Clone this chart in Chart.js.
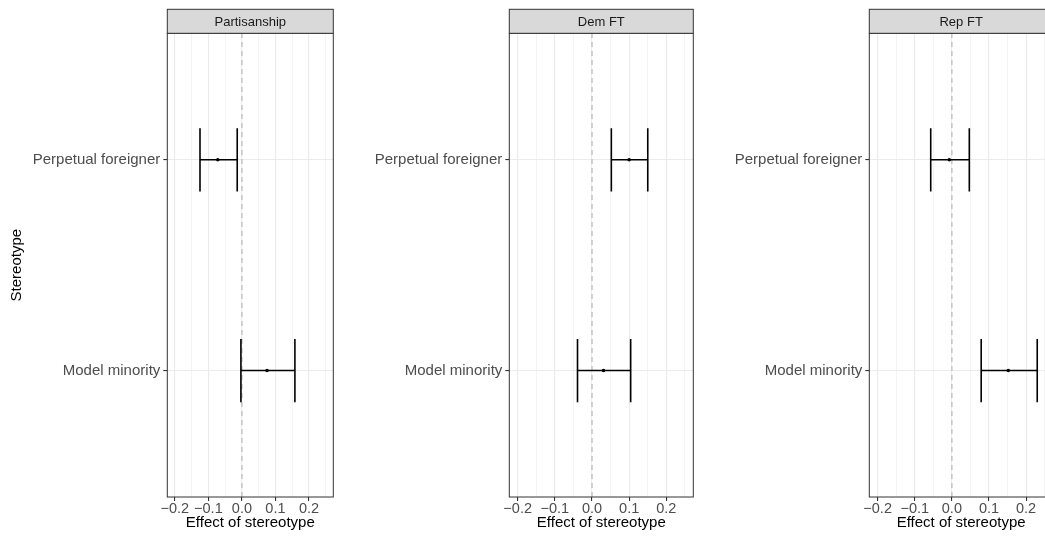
<!DOCTYPE html>
<html>
<head>
<meta charset="utf-8">
<script src="https://cdn.jsdelivr.net/npm/chart.js@4.4.1/dist/chart.umd.min.js"></script>
<style>
  html, body { margin: 0; padding: 0; background: #fff; overflow: hidden; }
  body { width: 1045px; height: 538px; position: relative; }
  canvas { position: absolute; top: 0; }
</style>
</head>
<body>
<canvas id="p0"></canvas>
<canvas id="p1"></canvas>
<canvas id="p2"></canvas>
<script>
// Data
const stereotypes = ['Model minority', 'Perpetual foreigner'];
const outcomes = ['Partisanship', 'Dem FT', 'Rep FT'];
const estimates = [[0.075, -0.072], [0.031, 0.100], [0.152, -0.007]];
const lowerCI = [[-0.003, -0.125], [-0.039, 0.052], [0.079, -0.057]];
const upperCI = [[0.158, -0.014], [0.104, 0.150], [0.230, 0.047]];
const xTicks = [-0.2, -0.15, -0.1, -0.05, 0, 0.05, 0.1, 0.15, 0.2, 0.25];
const xLimits = [-0.2, 0.25];

var FONT = "'Liberation Sans', Arial, sans-serif";
var expand = (xLimits[1] - xLimits[0]) * 0.05;
var capHalf = 0.15;

// canvas placement for each panel (left edge, width, y-axis width, right padding)
var panels = [
    { left: 0, width: 340, yWidth: 167.3, padRight: 6.7 },
    { left: 348, width: 352, yWidth: 161.3, padRight: 6.7 },
    { left: 697, width: 362, yWidth: 172.3, padRight: 6 }
];

function isMajor(v) {
    return Math.abs(Math.round(v * 10) - v * 10) < 1e-6;
}

function fmt(v) {
    if (Math.abs(v) < 1e-9) return '0.0';
    return (v < 0 ? '\u2212' : '') + Math.abs(v).toFixed(1);
}

var panelFrame = {
    id: 'panelFrame',
    afterDraw: function (chart, args, opts) {
        var c = chart.ctx, a = chart.chartArea;
        c.save();
        c.strokeStyle = '#333333';
        c.lineWidth = 1;
        c.strokeRect(a.left, a.top, a.right - a.left, a.bottom - a.top);
        // strip
        var top = 9.3;
        c.fillStyle = '#D9D9D9';
        c.fillRect(a.left, top, a.right - a.left, a.top - top);
        c.strokeRect(a.left, top, a.right - a.left, a.top - top);
        c.fillStyle = '#1A1A1A';
        c.font = '13px ' + FONT;
        c.textAlign = 'center';
        c.textBaseline = 'middle';
        c.fillText(opts.label, (a.left + a.right) / 2, (top + a.top) / 2 + 1);
        c.restore();
    }
};

function makeDatasets(p) {
    var ds = [];
    // dashed reference line at zero
    ds.push({
        data: [{ x: 0, y: 0.4 }, { x: 0, y: 2.6 }],
        showLine: true, borderColor: '#BEBEBE', borderWidth: 1.3,
        borderDash: [5, 4], pointRadius: 0, order: 10
    });
    stereotypes.forEach(function (s, i) {
        var y = i + 1;
        var lo = lowerCI[p][i], hi = upperCI[p][i];
        ds.push({
            data: [{ x: lo, y: y }, { x: hi, y: y }],
            showLine: true, borderColor: '#000', borderWidth: 1.5, pointRadius: 0, order: 2
        });
        ds.push({
            data: [{ x: lo, y: y - capHalf }, { x: lo, y: y + capHalf }],
            showLine: true, borderColor: '#000', borderWidth: 1.6, pointRadius: 0, order: 2
        });
        ds.push({
            data: [{ x: hi, y: y - capHalf }, { x: hi, y: y + capHalf }],
            showLine: true, borderColor: '#000', borderWidth: 1.6, pointRadius: 0, order: 2
        });
    });
    ds.push({
        data: estimates[p].map(function (v, i) { return { x: v, y: i + 1 }; }),
        pointRadius: 1.8, pointBackgroundColor: '#000', pointBorderWidth: 0, order: 1
    });
    return ds;
}

panels.forEach(function (pl, p) {
    var canvas = document.getElementById('p' + p);
    canvas.width = pl.width;
    canvas.height = 538;
    canvas.style.left = pl.left + 'px';

    new Chart(canvas.getContext('2d'), {
        type: 'scatter',
        data: { datasets: makeDatasets(p) },
        plugins: [panelFrame],
        options: {
            responsive: false,
            animation: false,
            layout: { padding: { top: 33.3, right: pl.padRight, left: 0, bottom: 0 } },
            plugins: {
                legend: { display: false },
                tooltip: { enabled: false },
                panelFrame: { label: outcomes[p] }
            },
            scales: {
                x: {
                    type: 'linear',
                    min: xLimits[0] - expand,
                    max: xLimits[1] + expand,
                    afterBuildTicks: function (s) {
                        s.ticks = xTicks.map(function (v) { return { value: v }; });
                    },
                    afterFit: function (s) { s.height = 41; },
                    border: { display: false },
                    grid: {
                        color: '#EBEBEB',
                        lineWidth: function (ctx) { return isMajor(ctx.tick.value) ? 1.1 : 0.55; },
                        tickColor: function (ctx) { return isMajor(ctx.tick.value) ? '#333333' : 'rgba(0,0,0,0)'; },
                        tickLength: 4
                    },
                    ticks: {
                        autoSkip: false,
                        maxRotation: 0,
                        padding: -1,
                        color: '#4D4D4D',
                        font: { family: FONT, size: 14.5 },
                        callback: function (v) { return isMajor(v) ? fmt(v) : ''; }
                    },
                    title: {
                        display: true,
                        text: 'Effect of stereotype',
                        color: '#000',
                        font: { family: FONT, size: 15 },
                        padding: { top: 0, bottom: 6 }
                    }
                },
                y: {
                    type: 'linear',
                    min: 0.4,
                    max: 2.6,
                    afterBuildTicks: function (s) {
                        s.ticks = stereotypes.map(function (c, i) { return { value: i + 1 }; });
                    },
                    afterFit: function (s) { s.width = pl.yWidth; },
                    border: { display: false },
                    grid: {
                        color: '#EBEBEB',
                        lineWidth: 1.1,
                        tickColor: '#333333',
                        tickLength: 4
                    },
                    ticks: {
                        autoSkip: false,
                        padding: 3,
                        color: '#4D4D4D',
                        font: { family: FONT, size: 15 },
                        callback: function (v) { return stereotypes[Math.round(v) - 1]; }
                    },
                    title: {
                        display: p === 0,
                        text: 'Stereotype',
                        color: '#000',
                        font: { family: FONT, size: 15 },
                        padding: { top: 8, bottom: 0 }
                    }
                }
            }
        }
    });
});
</script>
</body>
</html>
